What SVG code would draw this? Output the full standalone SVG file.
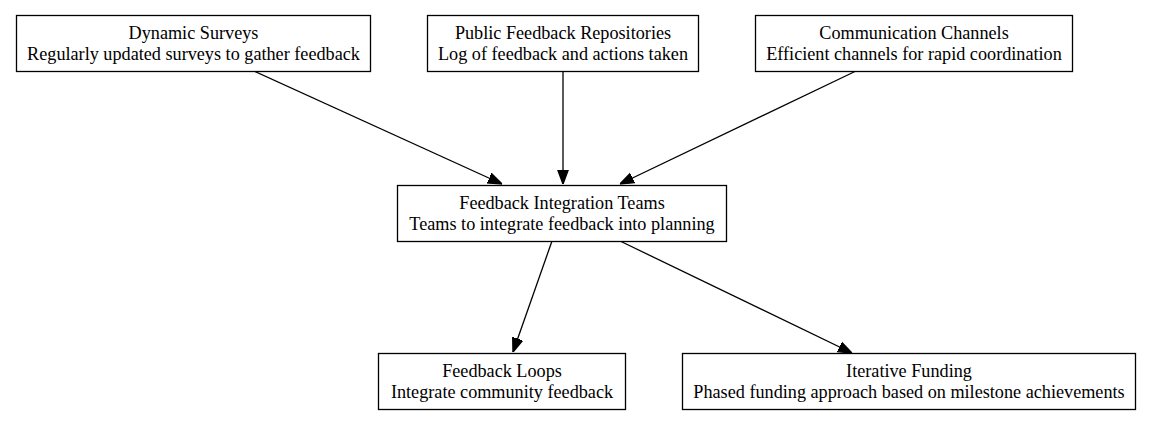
<svg xmlns="http://www.w3.org/2000/svg" width="1151" height="425" viewBox="0 0 1151 425">
<defs>
<style>
.box{fill:#fff;stroke:#000;stroke-width:1.3}
.t{font-family:"Liberation Serif","Times New Roman",serif;font-size:18.2px;fill:#000;text-anchor:middle}
.e{stroke:#000;stroke-width:1.3;fill:none}
</style>
<marker id="ah" viewBox="0 0 10 10" refX="10" refY="5" markerWidth="14" markerHeight="14" markerUnits="userSpaceOnUse" orient="auto">
<path d="M0,1.3 L10,5 L0,8.7 Z" fill="#000" stroke="#000"/>
</marker>
</defs>
<rect width="1151" height="425" fill="#fff"/>
<g id="connectors">
<path class="e" d="M254,71 L502,184" marker-end="url(#ah)"/>
<path class="e" d="M563,71 L563,184" marker-end="url(#ah)"/>
<path class="e" d="M856,71 L620,184" marker-end="url(#ah)"/>
<path class="e" d="M552,241 L513,352" marker-end="url(#ah)"/>
<path class="e" d="M620,241 L852,353" marker-end="url(#ah)"/>
</g>
<g id="n1">
<rect class="box" x="16.5" y="15.5" width="354" height="56"/>
<text class="t" x="193.5" y="39">Dynamic Surveys</text>
<text class="t" x="193.5" y="60">Regularly updated surveys to gather feedback</text>
</g>
<g id="n2">
<rect class="box" x="427.5" y="15.5" width="271" height="56"/>
<text class="t" x="563" y="39">Public Feedback Repositories</text>
<text class="t" x="563" y="60">Log of feedback and actions taken</text>
</g>
<g id="n3">
<rect class="box" x="755.5" y="15.5" width="317" height="56"/>
<text class="t" x="914" y="39">Communication Channels</text>
<text class="t" x="914" y="60">Efficient channels for rapid coordination</text>
</g>
<g id="n4">
<rect class="box" x="397.5" y="185.5" width="329" height="56"/>
<text class="t" x="562" y="209">Feedback Integration Teams</text>
<text class="t" x="562" y="230">Teams to integrate feedback into planning</text>
</g>
<g id="n5">
<rect class="box" x="378.5" y="353.5" width="247" height="56"/>
<text class="t" x="502" y="377">Feedback Loops</text>
<text class="t" x="502" y="398">Integrate community feedback</text>
</g>
<g id="n6">
<rect class="box" x="682.5" y="353.5" width="453" height="56"/>
<text class="t" x="909" y="377">Iterative Funding</text>
<text class="t" x="909" y="398">Phased funding approach based on milestone achievements</text>
</g>
</svg>
